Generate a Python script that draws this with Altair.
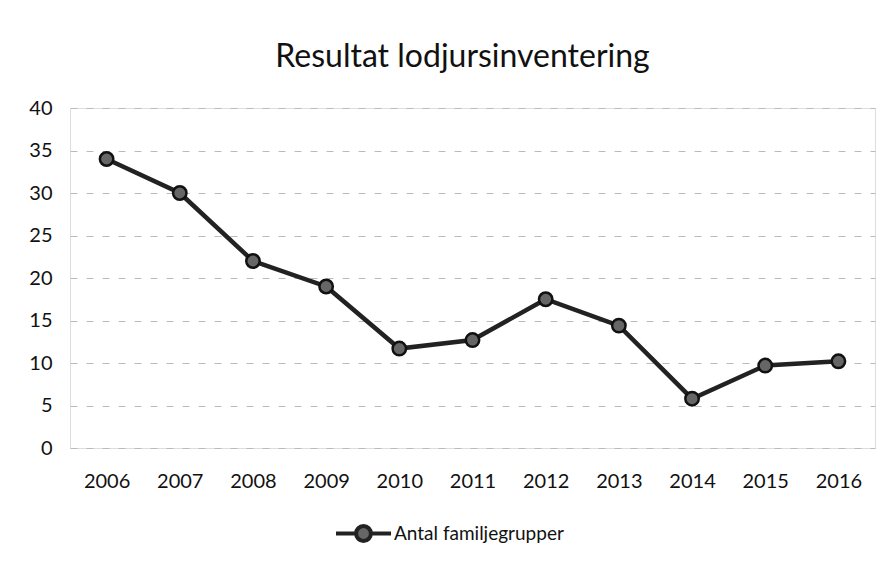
import altair as alt
import pandas as pd

years = ["2006", "2007", "2008", "2009", "2010", "2011", "2012", "2013", "2014", "2015", "2016"]
values = [34, 30, 22, 19, 11.7, 12.7, 17.5, 14.4, 5.8, 9.7, 10.2]
series = "Antal familjegrupper"
y_ticks = [0, 5, 10, 15, 20, 25, 30, 35, 40]

df = pd.DataFrame({"year": years, "value": values, "series": [series] * len(years)})

FONT = "Lato"

legend_symbol = "M-1,0H-0.27M0.27,0H1M0.27,0A0.27,0.27,0,1,1,-0.27,0A0.27,0.27,0,1,1,0.27,0"

base = alt.Chart(df).encode(
    x=alt.X("year:O", sort=years,
            scale=alt.Scale(type="point", padding=0.5),
            axis=alt.Axis(title=None, labelAngle=0, domain=False, ticks=False,
                          labelPadding=23, labelFontSize=20, labelFont=FONT,
                          labelColor="#111", grid=False)),
    y=alt.Y("value:Q", scale=alt.Scale(domain=[0, 40], nice=False),
            axis=alt.Axis(title=None, values=y_ticks, domain=False, ticks=False,
                          labelPadding=18, labelFontSize=20, labelFont=FONT,
                          labelColor="#111", grid=True, gridColor="#bbbbbb",
                          gridDash=[7, 9], gridWidth=1)),
)

line = base.mark_line(strokeWidth=4.5, color="#222").encode(
    color=alt.Color("series:N", scale=alt.Scale(range=["#222"]),
                    legend=alt.Legend(title=None, orient="none", legendX=264, legendY=396,
                                      direction="horizontal",
                                      symbolType=legend_symbol, symbolSize=3025,
                                      symbolStrokeWidth=4, symbolFillColor="#666",
                                      symbolStrokeColor="#222",
                                      labelFont=FONT, labelFontSize=19, labelColor="#111",
                                      labelOffset=1, labelLimit=400))
)
points = base.mark_point(filled=True, size=180, fill="#666", stroke="#111", strokeWidth=2.5, opacity=1)

chart = alt.layer(line, points).properties(
    width=805, height=340,
    title=alt.TitleParams("Resultat lodjursinventering", font=FONT, fontSize=32,
                          fontWeight="normal", color="#111", anchor="middle",
                          offset=24, dx=-10),
    autosize=alt.AutoSizeParams(type="none"),
    padding={"left": 62, "top": 100, "right": 5, "bottom": 105},
).configure_view(stroke=None).configure(background="white")

chart.save("out.html", embed_options={"renderer": "svg", "actions": False})
